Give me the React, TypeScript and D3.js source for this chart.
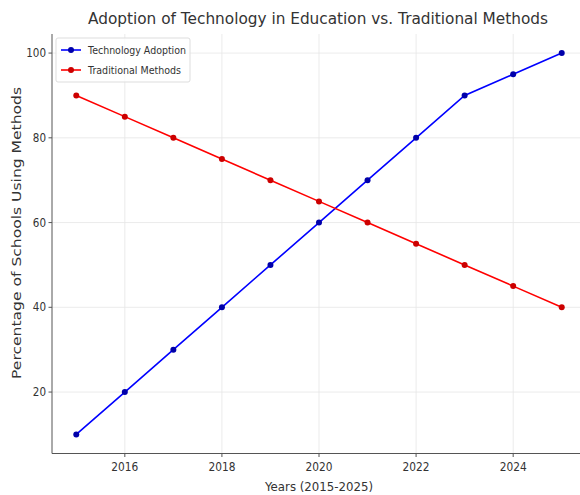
import React, { useEffect, useRef } from 'react';
import * as d3 from 'd3';

const years = [2015, 2016, 2017, 2018, 2019, 2020, 2021, 2022, 2023, 2024, 2025];
const techAdoption = [10, 20, 30, 40, 50, 60, 70, 80, 90, 95, 100];
const traditional = [90, 85, 80, 75, 70, 65, 60, 55, 50, 45, 40];
const xTicks = [2016, 2018, 2020, 2022, 2024];
const yTicks = [20, 40, 60, 80, 100];
const seriesNames = ['Technology Adoption', 'Traditional Methods'];
const seriesColors = ['#0000ff', '#ff0000'];
const markerColors = ['#0000aa', '#cc0000'];

const W = 580;
const H = 495;

const App: React.FC = () => {
  const svgRef = useRef<SVGSVGElement>(null);

  useEffect(() => {
    if (!svgRef.current) return;
    const svg = d3.select(svgRef.current);
    svg.selectAll('*').remove();

    const font = 'DejaVu Sans, sans-serif';
    // plot area (right side runs past the picture edge, as in the reference)
    const left = 52, top = 34, bottom = 453.5, right = 586;

    const x = d3.scaleLinear().domain([2014.5, 2025.5]).range([left, right]);
    const y = d3.scaleLinear().domain([5.5, 104.5]).range([bottom, top]);

    svg.append('rect').attr('width', W).attr('height', H).attr('fill', '#fff');

    // grid
    const grid = svg.append('g').attr('stroke', '#e6e6e6').attr('stroke-width', 0.8);
    xTicks.forEach(t => {
      grid.append('line').attr('x1', x(t)).attr('x2', x(t)).attr('y1', top).attr('y2', bottom);
    });
    yTicks.forEach(t => {
      grid.append('line').attr('x1', left).attr('x2', right).attr('y1', y(t)).attr('y2', y(t));
    });

    // axes
    svg.append('line').attr('x1', left).attr('x2', left).attr('y1', top).attr('y2', bottom)
      .attr('stroke', '#555').attr('stroke-width', 1);
    svg.append('line').attr('x1', left).attr('x2', right).attr('y1', bottom).attr('y2', bottom)
      .attr('stroke', '#555').attr('stroke-width', 1);

    xTicks.forEach(t => {
      svg.append('line').attr('x1', x(t)).attr('x2', x(t)).attr('y1', bottom).attr('y2', bottom + 3.5)
        .attr('stroke', '#555');
      svg.append('text').attr('x', x(t)).attr('y', bottom + 17)
        .attr('text-anchor', 'middle').attr('font-family', font).attr('font-size', 11.5)
        .attr('fill', '#333').attr('textLength', 27).attr('lengthAdjust', 'spacingAndGlyphs')
        .text(String(t));
    });
    yTicks.forEach(t => {
      svg.append('line').attr('x1', left - 3.5).attr('x2', left).attr('y1', y(t)).attr('y2', y(t))
        .attr('stroke', '#555');
      const label = String(t);
      svg.append('text').attr('x', left - 6).attr('y', y(t) + 4)
        .attr('text-anchor', 'end').attr('font-family', font).attr('font-size', 11.5)
        .attr('fill', '#333').attr('textLength', label.length * 6.6).attr('lengthAdjust', 'spacingAndGlyphs')
        .text(label);
    });

    // lines
    const line = d3.line<number>()
      .x((_, i) => x(years[i]))
      .y(d => y(d));
    [techAdoption, traditional].forEach((vals, s) => {
      svg.append('path').datum(vals)
        .attr('fill', 'none').attr('stroke', seriesColors[s]).attr('stroke-width', 1.6)
        .attr('d', line);
      svg.append('g').selectAll('circle').data(vals).join('circle')
        .attr('cx', (_, i) => x(years[i])).attr('cy', d => y(d)).attr('r', 3)
        .attr('fill', markerColors[s]);
    });

    // title & labels
    svg.append('text').attr('x', 318).attr('y', 24).attr('text-anchor', 'middle')
      .attr('font-family', font).attr('font-size', 16).attr('fill', '#333')
      .attr('textLength', 460).attr('lengthAdjust', 'spacingAndGlyphs')
      .text('Adoption of Technology in Education vs. Traditional Methods');
    svg.append('text').attr('x', 319).attr('y', 491).attr('text-anchor', 'middle')
      .attr('font-family', font).attr('font-size', 12.5).attr('fill', '#333')
      .attr('textLength', 108).attr('lengthAdjust', 'spacingAndGlyphs')
      .text('Years (2015-2025)');
    svg.append('text').attr('transform', `translate(21,${233}) rotate(-90)`)
      .attr('text-anchor', 'middle').attr('font-family', font).attr('font-size', 13)
      .attr('fill', '#333').attr('textLength', 292).attr('lengthAdjust', 'spacingAndGlyphs')
      .text('Percentage of Schools Using Methods');

    // legend
    const lg = svg.append('g');
    lg.append('rect').attr('x', 56).attr('y', 38).attr('width', 134).attr('height', 44).attr('rx', 2)
      .attr('fill', 'rgba(255,255,255,0.8)').attr('stroke', '#dddddd');
    seriesNames.forEach((name, i) => {
      const ly = 50 + i * 20;
      lg.append('line').attr('x1', 61).attr('x2', 81).attr('y1', ly).attr('y2', ly)
        .attr('stroke', seriesColors[i]).attr('stroke-width', 1.6);
      lg.append('circle').attr('cx', 71).attr('cy', ly).attr('r', 3).attr('fill', markerColors[i]);
      lg.append('text').attr('x', 88).attr('y', ly + 3.5).attr('font-family', font)
        .attr('font-size', 10).attr('fill', '#333')
        .attr('textLength', i === 0 ? 98 : 93).attr('lengthAdjust', 'spacingAndGlyphs')
        .text(name);
    });
  }, []);

  return (
    <svg ref={svgRef} width={W} height={H}
      style={{ position: 'absolute', left: 0, top: 0, display: 'block' }} />
  );
};

export default App;
